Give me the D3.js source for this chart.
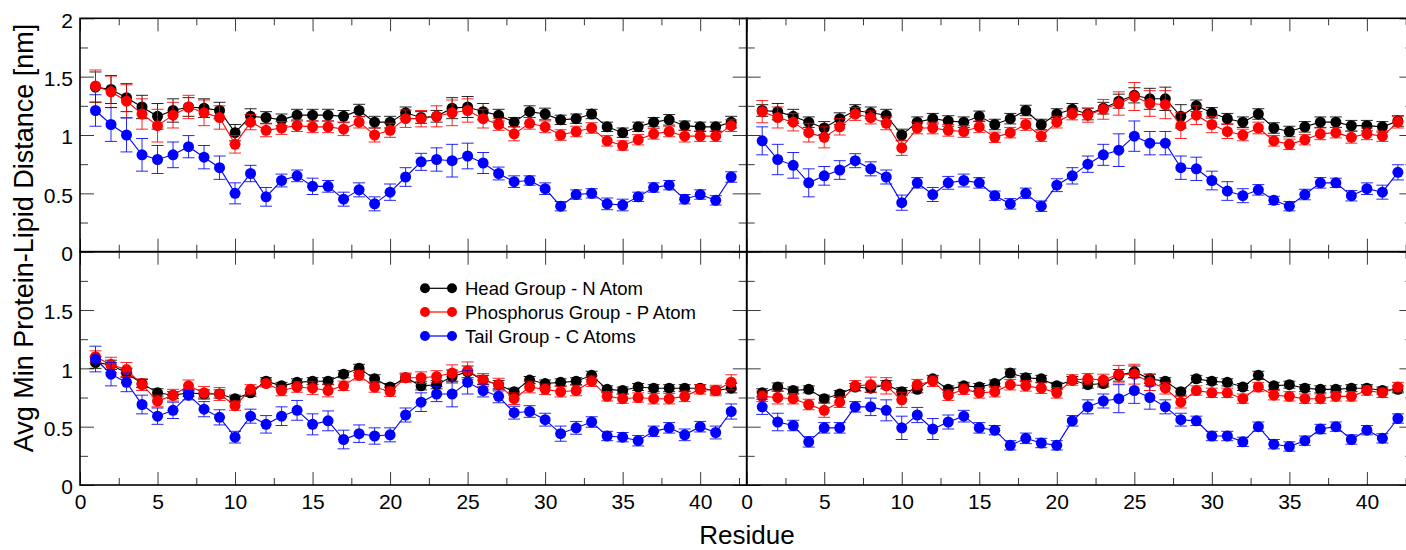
<!DOCTYPE html>
<html>
<head>
<meta charset="utf-8">
<script src="https://cdn.jsdelivr.net/npm/d3@7"></script>
<style>
  html, body { margin: 0; padding: 0; background: #fff; }
  svg { display: block; }
</style>
</head>
<body>
<svg id="chart" width="1406" height="550"></svg>
<script>
// Residue numbers along the peptide
const residues = d3.range(1, 43);

// Tick labels
const xTickLabels = [0, 5, 10, 15, 20, 25, 30, 35, 40];
const yTickLabelsTop = [0, 0.5, 1, 1.5, 2];
const yTickLabelsBottom = [0, 0.5, 1, 1.5];

// Series names (legend)
const seriesNames = ["Head Group - N Atom", "Phosphorus Group - P Atom", "Tail Group - C Atoms"];

// ---- Upper-left system ----
const headUL = [1.41,1.39,1.32,1.24,1.16,1.21,1.24,1.23,1.21,1.02,1.16,1.15,1.13,1.17,1.17,1.17,1.16,1.21,1.11,1.11,1.19,1.15,1.16,1.23,1.24,1.20,1.17,1.11,1.20,1.18,1.13,1.14,1.18,1.07,1.02,1.07,1.11,1.13,1.08,1.07,1.07,1.11];
const headErrUL = [0.13,0.12,0.12,0.10,0.11,0.10,0.08,0.08,0.07,0.07,0.065,0.05,0.05,0.05,0.05,0.05,0.05,0.053,0.05,0.05,0.05,0.05,0.05,0.09,0.09,0.07,0.05,0.04,0.05,0.05,0.04,0.04,0.04,0.04,0.04,0.04,0.04,0.045,0.04,0.04,0.04,0.05];
const phosUL = [1.42,1.37,1.29,1.18,1.08,1.17,1.24,1.19,1.15,0.92,1.11,1.04,1.06,1.08,1.07,1.07,1.05,1.11,1.00,1.04,1.14,1.14,1.16,1.19,1.21,1.14,1.09,1.01,1.10,1.07,1.00,1.03,1.06,0.95,0.91,0.96,1.01,1.03,0.99,0.99,0.99,1.08];
const phosErrUL = [0.137,0.135,0.14,0.13,0.14,0.11,0.10,0.11,0.10,0.075,0.065,0.055,0.055,0.05,0.05,0.05,0.055,0.05,0.06,0.06,0.075,0.07,0.09,0.11,0.10,0.08,0.05,0.06,0.05,0.05,0.045,0.045,0.045,0.045,0.04,0.045,0.045,0.045,0.05,0.045,0.045,0.05];
const tailUL = [1.21,1.09,1.00,0.83,0.79,0.83,0.90,0.81,0.72,0.50,0.67,0.47,0.61,0.65,0.56,0.56,0.45,0.53,0.41,0.51,0.64,0.77,0.79,0.78,0.82,0.76,0.67,0.60,0.61,0.54,0.39,0.49,0.50,0.41,0.40,0.47,0.55,0.57,0.45,0.49,0.44,0.64];
const tailErrUL = [0.135,0.145,0.145,0.14,0.12,0.11,0.095,0.10,0.10,0.09,0.07,0.08,0.055,0.05,0.07,0.05,0.06,0.06,0.06,0.07,0.08,0.073,0.10,0.14,0.11,0.09,0.055,0.05,0.04,0.05,0.04,0.04,0.04,0.05,0.05,0.04,0.04,0.04,0.04,0.04,0.04,0.045];

// ---- Upper-right system ----
const headUR = [1.21,1.20,1.16,1.11,1.06,1.14,1.21,1.19,1.17,1.00,1.11,1.14,1.12,1.11,1.16,1.09,1.14,1.21,1.09,1.18,1.22,1.18,1.23,1.29,1.34,1.31,1.31,1.16,1.25,1.19,1.14,1.11,1.18,1.06,1.03,1.07,1.11,1.11,1.08,1.08,1.07,1.12];
const headErrUR = [0.05,0.07,0.06,0.045,0.055,0.05,0.05,0.05,0.05,0.05,0.045,0.045,0.045,0.045,0.045,0.045,0.045,0.045,0.045,0.045,0.05,0.05,0.05,0.06,0.065,0.09,0.10,0.10,0.05,0.045,0.045,0.045,0.045,0.045,0.045,0.045,0.045,0.045,0.045,0.045,0.045,0.045];
const phosUR = [1.20,1.15,1.11,1.02,0.98,1.07,1.18,1.15,1.10,0.89,1.06,1.06,1.04,1.03,1.07,0.98,1.02,1.09,0.99,1.11,1.18,1.17,1.22,1.27,1.33,1.27,1.26,1.08,1.17,1.09,1.03,1.00,1.06,0.95,0.92,0.96,1.01,1.02,0.98,1.01,0.99,1.11];
const phosErrUR = [0.095,0.09,0.075,0.08,0.09,0.07,0.055,0.055,0.055,0.065,0.05,0.05,0.05,0.05,0.05,0.045,0.045,0.05,0.045,0.05,0.05,0.06,0.085,0.10,0.12,0.11,0.12,0.11,0.08,0.07,0.06,0.05,0.05,0.045,0.045,0.045,0.05,0.045,0.05,0.05,0.045,0.05];
const tailUR = [0.95,0.79,0.74,0.59,0.65,0.70,0.78,0.71,0.64,0.42,0.59,0.49,0.59,0.61,0.59,0.48,0.41,0.50,0.39,0.57,0.65,0.75,0.83,0.87,0.99,0.93,0.93,0.72,0.71,0.61,0.52,0.48,0.53,0.44,0.39,0.49,0.59,0.59,0.48,0.54,0.51,0.68];
const tailErrUR = [0.12,0.13,0.11,0.12,0.08,0.08,0.06,0.06,0.06,0.065,0.045,0.06,0.055,0.055,0.045,0.04,0.045,0.045,0.045,0.055,0.07,0.07,0.09,0.14,0.13,0.10,0.10,0.10,0.10,0.08,0.08,0.06,0.045,0.035,0.04,0.045,0.045,0.04,0.045,0.05,0.06,0.065];

// ---- Lower-left system ----
const headLL = [1.05,1.03,0.96,0.87,0.79,0.77,0.79,0.78,0.78,0.74,0.79,0.89,0.85,0.88,0.89,0.89,0.95,1.00,0.91,0.84,0.92,0.85,0.86,0.93,0.97,0.90,0.86,0.80,0.90,0.87,0.88,0.89,0.94,0.82,0.81,0.84,0.83,0.83,0.83,0.83,0.81,0.83];
const headErrLL = [0.05,0.04,0.04,0.035,0.035,0.03,0.03,0.035,0.035,0.03,0.03,0.03,0.03,0.03,0.03,0.03,0.03,0.035,0.035,0.03,0.03,0.035,0.035,0.055,0.05,0.04,0.035,0.03,0.03,0.03,0.03,0.03,0.035,0.03,0.03,0.03,0.03,0.03,0.03,0.03,0.03,0.04];
const phosLL = [1.10,1.03,0.99,0.86,0.72,0.77,0.85,0.79,0.78,0.68,0.82,0.87,0.81,0.84,0.83,0.81,0.85,0.94,0.84,0.80,0.92,0.92,0.93,0.96,0.98,0.90,0.86,0.74,0.84,0.82,0.80,0.81,0.89,0.76,0.74,0.75,0.74,0.74,0.76,0.82,0.81,0.88];
const phosErrLL = [0.05,0.065,0.06,0.05,0.05,0.05,0.05,0.055,0.055,0.04,0.04,0.03,0.045,0.045,0.055,0.055,0.04,0.04,0.045,0.04,0.04,0.05,0.05,0.07,0.075,0.055,0.055,0.05,0.05,0.045,0.045,0.045,0.045,0.04,0.04,0.04,0.045,0.045,0.045,0.04,0.045,0.065];
const tailLL = [1.08,0.95,0.88,0.69,0.59,0.64,0.77,0.65,0.58,0.41,0.59,0.52,0.59,0.64,0.52,0.55,0.39,0.44,0.42,0.43,0.60,0.71,0.78,0.78,0.88,0.81,0.76,0.62,0.63,0.56,0.44,0.49,0.54,0.42,0.41,0.38,0.46,0.49,0.43,0.50,0.45,0.63];
const tailErrLL = [0.11,0.10,0.08,0.08,0.07,0.07,0.04,0.065,0.065,0.05,0.06,0.075,0.08,0.085,0.09,0.085,0.08,0.075,0.07,0.06,0.06,0.08,0.065,0.11,0.10,0.055,0.055,0.055,0.05,0.055,0.065,0.055,0.045,0.04,0.04,0.045,0.045,0.045,0.05,0.045,0.055,0.065];

// ---- Lower-right system ----
const headLR = [0.79,0.84,0.81,0.82,0.74,0.78,0.84,0.83,0.86,0.80,0.82,0.91,0.82,0.85,0.84,0.87,0.96,0.92,0.91,0.85,0.90,0.86,0.87,0.94,0.97,0.91,0.89,0.80,0.91,0.89,0.88,0.84,0.94,0.85,0.86,0.83,0.82,0.82,0.83,0.83,0.81,0.82];
const headErrLR = [0.035,0.035,0.03,0.03,0.03,0.03,0.03,0.035,0.035,0.035,0.03,0.03,0.03,0.03,0.03,0.03,0.035,0.035,0.03,0.03,0.03,0.03,0.03,0.05,0.05,0.04,0.03,0.03,0.03,0.03,0.03,0.03,0.035,0.03,0.03,0.03,0.03,0.03,0.03,0.03,0.03,0.03];
const phosLR = [0.76,0.75,0.74,0.69,0.64,0.71,0.85,0.86,0.85,0.73,0.86,0.89,0.77,0.82,0.79,0.80,0.86,0.85,0.83,0.79,0.90,0.91,0.90,0.95,0.95,0.88,0.83,0.71,0.81,0.79,0.79,0.74,0.84,0.77,0.76,0.74,0.74,0.76,0.76,0.81,0.79,0.84];
const phosErrLR = [0.045,0.055,0.045,0.045,0.06,0.045,0.045,0.065,0.07,0.065,0.045,0.045,0.045,0.045,0.045,0.045,0.045,0.045,0.045,0.045,0.045,0.045,0.05,0.075,0.085,0.07,0.05,0.05,0.04,0.04,0.04,0.04,0.04,0.04,0.04,0.04,0.04,0.04,0.04,0.04,0.04,0.04];
const tailLR = [0.67,0.54,0.51,0.37,0.49,0.49,0.67,0.67,0.64,0.49,0.60,0.48,0.54,0.59,0.49,0.47,0.34,0.40,0.36,0.34,0.55,0.67,0.72,0.74,0.81,0.75,0.67,0.56,0.55,0.42,0.42,0.37,0.50,0.35,0.33,0.38,0.48,0.50,0.39,0.47,0.40,0.57];
const tailErrLR = [0.065,0.075,0.045,0.045,0.045,0.045,0.045,0.075,0.09,0.10,0.065,0.09,0.06,0.05,0.045,0.04,0.04,0.045,0.04,0.04,0.045,0.06,0.06,0.12,0.11,0.10,0.06,0.055,0.04,0.04,0.04,0.04,0.04,0.04,0.04,0.04,0.04,0.04,0.04,0.04,0.04,0.04];

const colors = ["#000000", "#ff0000", "#0000ff"];
const FONT = "'Liberation Sans', Arial, Helvetica, sans-serif";

const svg = d3.select("#chart");

// Shared geometry of the 2x2 grid
const xLeft = d3.scaleLinear().domain([0, 43]).range([80, 746.7]);
const xRight = d3.scaleLinear().domain([0, 43]).range([746.7, 1413.4]);
const yTop = d3.scaleLinear().domain([0, 2]).range([251.7, 18.3]);
const yBottom = d3.scaleLinear().domain([0, 2]).range([485, 251.7]);

const panels = [
  { x: xLeft,  y: yTop,    xLabels: false, yLabels: yTickLabelsTop,
    series: [[headUL, headErrUL], [phosUL, phosErrUL], [tailUL, tailErrUL]] },
  { x: xRight, y: yTop,    xLabels: false, yLabels: null,
    series: [[headUR, headErrUR], [phosUR, phosErrUR], [tailUR, tailErrUR]] },
  { x: xLeft,  y: yBottom, xLabels: true,  yLabels: yTickLabelsBottom,
    series: [[headLL, headErrLL], [phosLL, phosErrLL], [tailLL, tailErrLL]] },
  { x: xRight, y: yBottom, xLabels: true,  yLabels: null,
    series: [[headLR, headErrLR], [phosLR, phosErrLR], [tailLR, tailErrLR]] }
];

const xMajor = d3.range(0, 45, 5);
const xMinor = d3.range(2.5, 45, 5);
const yMajor = d3.range(0, 2.01, 0.5);
const yMinor = d3.range(0.25, 2, 0.5);

function styleAxis(g) {
  g.select(".domain").remove();
  g.attr("color", "#3a3a3a").attr("font-family", FONT).attr("font-size", 21);
  g.selectAll(".tick line").attr("stroke-width", 1);
  g.selectAll(".tick text").attr("fill", "#000");
}

panels.forEach(p => {
  const [x0, x1] = p.x.range();
  const [y0, y1] = p.y.range(); // y0 bottom, y1 top
  const g = svg.append("g");

  // Inward ticks on all four edges
  const fmt = v => (v === 0 ? "0" : d3.format("~g")(v));
  g.append("g").attr("transform", `translate(0,${y0})`)
    .call(d3.axisBottom(p.x).tickValues(xMajor).tickSize(-13).tickPadding(9)
      .tickFormat(v => (p.xLabels && xTickLabels.includes(v)) ? fmt(v) : ""))
    .call(styleAxis);
  g.append("g").attr("transform", `translate(0,${y0})`)
    .call(d3.axisBottom(p.x).tickValues(xMinor).tickSize(-7).tickFormat(() => ""))
    .call(styleAxis);
  g.append("g").attr("transform", `translate(0,${y1})`)
    .call(d3.axisTop(p.x).tickValues(xMajor).tickSize(-13).tickFormat(() => ""))
    .call(styleAxis);
  g.append("g").attr("transform", `translate(0,${y1})`)
    .call(d3.axisTop(p.x).tickValues(xMinor).tickSize(-7).tickFormat(() => ""))
    .call(styleAxis);

  const left = g.append("g").attr("transform", `translate(${x0},0)`)
    .call(d3.axisLeft(p.y).tickValues(yMajor).tickSize(-14).tickPadding(7)
      .tickFormat(v => (p.yLabels && p.yLabels.includes(v)) ? fmt(v) : ""))
    .call(styleAxis);
  left.selectAll(".tick text").attr("dy", "0.42em");
  g.append("g").attr("transform", `translate(${x0},0)`)
    .call(d3.axisLeft(p.y).tickValues(yMinor).tickSize(-8).tickFormat(() => ""))
    .call(styleAxis);
  g.append("g").attr("transform", `translate(${x1},0)`)
    .call(d3.axisRight(p.y).tickValues(yMajor).tickSize(-14).tickFormat(() => ""))
    .call(styleAxis);
  g.append("g").attr("transform", `translate(${x1},0)`)
    .call(d3.axisRight(p.y).tickValues(yMinor).tickSize(-8).tickFormat(() => ""))
    .call(styleAxis);

  // Series: connecting line, error bars, then markers
  p.series.forEach(([vals, errs], si) => {
    const pts = residues.map((r, i) => ({ r, v: vals[i], e: errs[i] }));
    const c = colors[si];
    const sg = g.append("g");
    sg.append("path")
      .datum(pts)
      .attr("fill", "none")
      .attr("stroke", c)
      .attr("stroke-width", 1.1)
      .attr("d", d3.line().x(d => p.x(d.r)).y(d => p.y(d.v)));

    const eb = sg.append("g").attr("stroke", c).attr("stroke-width", 1).attr("stroke-opacity", 0.85);
    const cap = 6;
    pts.forEach(d => {
      const cx = p.x(d.r), ya = p.y(d.v + d.e), yb = p.y(d.v - d.e);
      eb.append("line").attr("x1", cx).attr("x2", cx).attr("y1", ya).attr("y2", yb);
      eb.append("line").attr("x1", cx - cap).attr("x2", cx + cap).attr("y1", ya).attr("y2", ya);
      eb.append("line").attr("x1", cx - cap).attr("x2", cx + cap).attr("y1", yb).attr("y2", yb);
    });

    sg.selectAll("circle").data(pts).join("circle")
      .attr("cx", d => p.x(d.r))
      .attr("cy", d => p.y(d.v))
      .attr("r", 5.5)
      .attr("fill", c);
  });

  // Frame
  g.append("rect")
    .attr("x", x0).attr("y", y1)
    .attr("width", x1 - x0).attr("height", y0 - y1)
    .attr("fill", "none").attr("stroke", "#000").attr("stroke-width", 1.6);
});

// Legend inside the lower-left panel
const legend = svg.append("g").attr("font-family", FONT).attr("font-size", 18.5);
const legendRows = [288.3, 312, 336];
seriesNames.forEach((name, i) => {
  const cy = legendRows[i];
  legend.append("line").attr("x1", 425).attr("x2", 452).attr("y1", cy).attr("y2", cy)
    .attr("stroke", colors[i]).attr("stroke-width", 1.2);
  legend.append("circle").attr("cx", 425).attr("cy", cy).attr("r", 5).attr("fill", colors[i]);
  legend.append("circle").attr("cx", 452).attr("cy", cy).attr("r", 5).attr("fill", colors[i]);
  legend.append("text").attr("x", 465).attr("y", cy + 6.6).text(name);
});

// Axis titles
svg.append("text")
  .attr("x", 747).attr("y", 544)
  .attr("text-anchor", "middle")
  .attr("font-family", FONT).attr("font-size", 26)
  .text("Residue");

svg.append("text")
  .attr("transform", "translate(33,238) rotate(-90)")
  .attr("text-anchor", "middle")
  .attr("font-family", FONT).attr("font-size", 27)
  .text("Avg Min Protein-Lipid Distance [nm]");
</script>
</body>
</html>
